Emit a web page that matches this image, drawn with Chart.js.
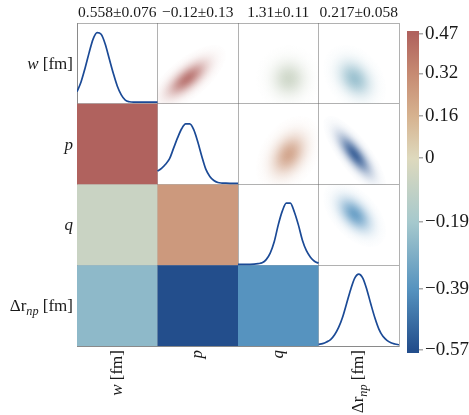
<!DOCTYPE html>
<html>
<head>
<meta charset="utf-8">
<script src="https://cdn.jsdelivr.net/npm/chart.js"></script>
<style>
    body { margin: 0; background: #fff; }
    #wrap { position: relative; width: 469px; height: 415px; }
    #wrap canvas { position: absolute; top: 0; }
</style>
</head>
<body>
<div id="wrap">
    <canvas id="cornerChart" width="469" height="415" style="left:0"></canvas>
    <canvas id="barLegend" width="69" height="415" style="left:400px"></canvas>
</div>
<script>
// parameters, in matrix order
const Param_Labels = [
    [['w', 'i'], [' [fm]', 'r']],
    [['p', 'i']],
    [['q', 'i']],
    [['Δr', 'r'], ['np', 's'], [' [fm]', 'r']]
];
const Stat_Labels = ['0.558±0.076', '−0.12±0.13', '1.31±0.11', '0.217±0.058'];

// marginal densities, sampled across each diagonal cell (fraction of cell height)
const Density_Grid = [0, 0.05, 0.1, 0.15, 0.2, 0.25, 0.3, 0.35, 0.4, 0.45, 0.5, 0.55, 0.6, 0.65, 0.7, 0.75, 0.8, 0.85, 0.9, 0.95, 1];
const Density_W = [0.15, 0.27, 0.44, 0.63, 0.80, 0.88, 0.86, 0.74, 0.56, 0.38, 0.22, 0.11, 0.045, 0.025, 0.02, 0.02, 0.02, 0.02, 0.02, 0.02, 0.02];
const Density_P = [0.165, 0.20, 0.25, 0.32, 0.45, 0.58, 0.69, 0.75, 0.75, 0.68, 0.53, 0.35, 0.19, 0.10, 0.05, 0.025, 0.018, 0.016, 0.015, 0.015, 0.015];
const Density_Q = [0.012, 0.012, 0.012, 0.012, 0.014, 0.02, 0.03, 0.07, 0.15, 0.29, 0.50, 0.67, 0.77, 0.77, 0.66, 0.50, 0.31, 0.18, 0.10, 0.05, 0.025];
const Density_Dr = [0.02, 0.03, 0.05, 0.08, 0.14, 0.23, 0.36, 0.53, 0.70, 0.84, 0.89, 0.84, 0.70, 0.52, 0.35, 0.21, 0.12, 0.07, 0.04, 0.025, 0.015];
const Densities = [Density_W, Density_P, Density_Q, Density_Dr];

// pairs (row variable A, column variable B)
const Pair_A = [0, 0, 0, 1, 1, 2];
const Pair_B = [1, 2, 3, 2, 3, 3];
const Pair_Corr = [0.47, -0.07, -0.25, 0.26, -0.57, -0.39];
const Joint_Tilt = [0.7, 0.0, -0.3, 0.35, -0.78, -0.5];
// joint density centre and spread of each variable (fraction of cell)
const Joint_Centre = [0.31, 0.37, 0.63, 0.45];
const Joint_Spread = [0.14, 0.16, 0.135, 0.13];

// colour bar
const Bar_Ticks = [0.47, 0.32, 0.16, 0, -0.19, -0.39, -0.57];
const Bar_Min = -0.58;
const Bar_Max = 0.48;

const Stop_Values = [-0.57, -0.39, -0.19, 0, 0.16, 0.32, 0.47];
const Stop_Colors = [[35, 78, 140], [86, 147, 191], [166, 201, 205], [222, 217, 189], [214, 178, 143], [198, 138, 114], [176, 98, 94]];

const Font_Family = '"Liberation Serif", "Times New Roman", serif';
const Curve_Color = '#1b4a96';
const Frame_Color = 'rgba(100, 100, 100, 0.5)';

function Color_At(Value) {
    if (Value <= Stop_Values[0]) return Stop_Colors[0];
    for (let i = 1; i < Stop_Values.length; i++) {
        if (Value <= Stop_Values[i]) {
            const F = (Value - Stop_Values[i - 1]) / (Stop_Values[i] - Stop_Values[i - 1]);
            return Stop_Colors[i].map((C, k) => Math.round(Stop_Colors[i - 1][k] + F * (C - Stop_Colors[i - 1][k])));
        }
    }
    return Stop_Colors[Stop_Colors.length - 1];
}

function Font_For(Style, Size) {
    if (Style === 's') return `italic ${Size * 0.72}px ${Font_Family}`;
    return `${Style === 'i' ? 'italic ' : ''}${Size}px ${Font_Family}`;
}

function Draw_Rich(Ctx, Parts, X, Y, Size) {
    // right-aligned at X, baseline at Y
    const Sized = Parts.map(([Text, Style]) => {
        Ctx.font = Font_For(Style, Size);
        return { Text, Style, W: Ctx.measureText(Text).width };
    });
    let Cursor = X - Sized.reduce((S, P) => S + P.W, 0);
    Ctx.textAlign = 'left';
    Ctx.textBaseline = 'alphabetic';
    Sized.forEach(P => {
        Ctx.font = Font_For(P.Style, Size);
        Ctx.fillText(P.Text, Cursor, Y + (P.Style === 's' ? 4 : 0));
        Cursor += P.W;
    });
}

function Draw_Blob(Ctx, Cx, Cy, Sx, Sy, Rho, Rgb) {
    Ctx.save();
    Ctx.transform(Sx, -Sy * Rho, 0, -Sy * Math.sqrt(1 - Rho * Rho), Cx, Cy);
    const Grad = Ctx.createRadialGradient(0, 0, 0, 0, 0, 3);
    for (let k = 0; k <= 12; k++) {
        const R = k / 4;
        Grad.addColorStop(R / 3, `rgba(${Rgb.join(',')},${(0.85 * Math.exp(-R * R / 2)).toFixed(3)})`);
    }
    Ctx.fillStyle = Grad;
    Ctx.beginPath();
    Ctx.arc(0, 0, 3, 0, Math.PI * 2);
    Ctx.fill();
    Ctx.restore();
}

const Matrix_Plugin = {
    id: 'matrix',
    beforeDatasetsDraw(Chart_Ref) {
        const { ctx: Ctx, scales: { x: X, y: Y } } = Chart_Ref;
        Pair_A.forEach((A, i) => {
            const B = Pair_B[i];
            const Rgb = Color_At(Pair_Corr[i]);
            // lower triangle: correlation cell (row B, column A)
            const L = X.getPixelForValue(A), R = X.getPixelForValue(A + 1);
            const T = Y.getPixelForValue(B), Bo = Y.getPixelForValue(B + 1);
            Ctx.fillStyle = `rgb(${Rgb.join(',')})`;
            Ctx.fillRect(L, T, R - L, Bo - T);
            // upper triangle: joint density (row A, column B)
            const L2 = X.getPixelForValue(B), R2 = X.getPixelForValue(B + 1);
            const T2 = Y.getPixelForValue(A), B2 = Y.getPixelForValue(A + 1);
            Ctx.save();
            Ctx.beginPath();
            Ctx.rect(L2, T2, R2 - L2, B2 - T2);
            Ctx.clip();
            Draw_Blob(Ctx,
                X.getPixelForValue(B + Joint_Centre[B]),
                Y.getPixelForValue(A + 1 - Joint_Centre[A]),
                Joint_Spread[B] * (R2 - L2),
                Joint_Spread[A] * (B2 - T2),
                Joint_Tilt[i], Rgb);
            Ctx.restore();
        });
    },
    afterDraw(Chart_Ref) {
        const { ctx: Ctx, chartArea: Area, scales: { x: X, y: Y } } = Chart_Ref;
        Ctx.save();
        Ctx.fillStyle = '#1a1a1a';
        Ctx.font = `15.5px ${Font_Family}`;
        Ctx.textAlign = 'center';
        Ctx.textBaseline = 'alphabetic';
        Stat_Labels.forEach((Text, i) => Ctx.fillText(Text, X.getPixelForValue(i + 0.5), Area.top - 6));
        Param_Labels.forEach((Parts, i) => {
            Draw_Rich(Ctx, Parts, Area.left - 4, Y.getPixelForValue(i + 0.5) + 5.5, 17);
            Ctx.save();
            Ctx.translate(X.getPixelForValue(i + 0.5) + 4.5, Area.bottom + 4);
            Ctx.rotate(-Math.PI / 2);
            Draw_Rich(Ctx, Parts, 0, 0, 17);
            Ctx.restore();
        });
        Ctx.restore();
    }
};

const Frame_Axis = {
    type: 'linear', min: 0, max: 4, z: 1,
    ticks: { display: false, stepSize: 1 },
    grid: { color: Frame_Color, lineWidth: 1, drawTicks: false },
    border: { color: Frame_Color, width: 1 }
};

new Chart(document.getElementById('cornerChart').getContext('2d'), {
    type: 'scatter',
    data: {
        datasets: Densities.map((D, i) => ({
            data: Density_Grid.map((T, k) => ({ x: i + T, y: i + 1 - D[k] })),
            showLine: true,
            borderColor: Curve_Color,
            borderWidth: 1.7,
            pointRadius: 0,
            cubicInterpolationMode: 'monotone',
            fill: false
        }))
    },
    options: {
        responsive: false,
        animation: false,
        events: [],
        layout: { padding: { left: 77, top: 23, right: 70, bottom: 69 } },
        plugins: { legend: { display: false }, tooltip: { enabled: false } },
        scales: {
            x: { ...Frame_Axis },
            y: { ...Frame_Axis, reverse: true }
        }
    },
    plugins: [Matrix_Plugin]
});

// colour bar axis: separate linear stretches above and below zero
const Base_Linear = Chart.LinearScale || Chart.registry.getScale('linear');
class Split_Scale extends Base_Linear {
    getPixelForValue(Value) {
        const Zero = this.options.zeroAt;
        const Dec = Value >= 0 ? Zero + (1 - Zero) * Value / this.max : Zero - Zero * Value / this.min;
        return this.getPixelForDecimal(Dec);
    }
}
Split_Scale.id = 'splitLinear';
Split_Scale.defaults = {};
Chart.register(Split_Scale);

function Bar_Gradient(Context) {
    const Chart_Ref = Context.chart;
    const Area = Chart_Ref.chartArea;
    if (!Area) return null;
    const Y = Chart_Ref.scales.y;
    const Grad = Chart_Ref.ctx.createLinearGradient(0, Area.bottom, 0, Area.top);
    Stop_Values.forEach((V, i) => {
        const Pos = (Area.bottom - Y.getPixelForValue(V)) / (Area.bottom - Area.top);
        Grad.addColorStop(Math.min(1, Math.max(0, Pos)), `rgb(${Stop_Colors[i].join(',')})`);
    });
    Grad.addColorStop(0, `rgb(${Stop_Colors[0].join(',')})`);
    Grad.addColorStop(1, `rgb(${Stop_Colors[Stop_Colors.length - 1].join(',')})`);
    return Grad;
}

new Chart(document.getElementById('barLegend').getContext('2d'), {
    type: 'bar',
    data: {
        labels: [''],
        datasets: [{
            data: [[Bar_Min, Bar_Max]],
            backgroundColor: Bar_Gradient,
            borderWidth: 0,
            barPercentage: 1,
            categoryPercentage: 1,
            inflateAmount: 0
        }]
    },
    options: {
        responsive: false,
        animation: false,
        events: [],
        layout: { padding: { left: 7, top: 31, bottom: 62, right: 0 } },
        plugins: { legend: { display: false }, tooltip: { enabled: false } },
        scales: {
            x: { display: false },
            y: {
                type: 'splitLinear',
                position: 'right',
                min: Bar_Min,
                max: Bar_Max,
                zeroAt: 0.605,
                z: 1,
                afterBuildTicks: S => { S.ticks = Bar_Ticks.map(V => ({ value: V })); },
                afterFit: S => { S.width = 50; },
                ticks: {
                    autoSkip: false,
                    padding: 2,
                    color: '#1a1a1a',
                    font: { family: Font_Family, size: 19 },
                    callback: V => (V < 0 ? '−' + Math.abs(V) : String(V))
                },
                grid: {
                    color: C => (C.tick && C.tick.value === 0 ? '#ffffff' : 'rgba(0,0,0,0)'),
                    lineWidth: 1.5,
                    tickLength: 4,
                    tickColor: '#aaaaaa'
                },
                border: { display: false }
            }
        }
    }
});
</script>
</body>
</html>
